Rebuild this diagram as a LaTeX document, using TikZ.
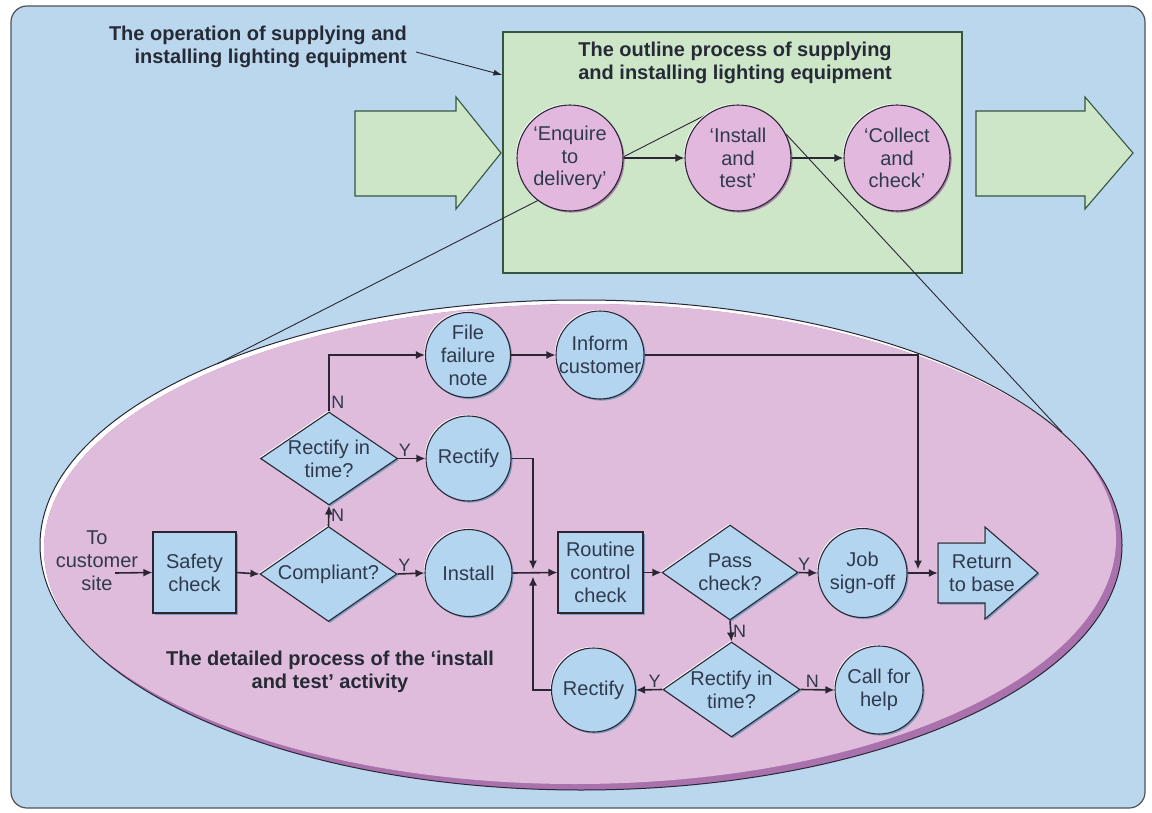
\documentclass[tikz,border=0pt]{standalone}
\usepackage{fontspec}
\setmainfont{Liberation Sans}
\usetikzlibrary{arrows.meta,shapes.geometric,calc}
\pgfdeclarelayer{back}
\pgfdeclarelayer{lines}
\pgfsetlayers{back,lines,main}

\definecolor{framebg}{HTML}{BAD7EE}
\definecolor{frameline}{HTML}{4F5358}
\definecolor{boxgreen}{HTML}{CDE6C8}
\definecolor{greenedge}{HTML}{35563F}
\definecolor{pinkfill}{HTML}{E0BCDC}
\definecolor{pinkrim}{HTML}{A972AC}
\definecolor{bubble}{HTML}{E2B8DF}
\definecolor{bubbleshade}{HTML}{A97FA9}
\definecolor{stepblue}{HTML}{B4D5EF}
\definecolor{stepshade}{HTML}{7C9CBE}
\definecolor{ink}{HTML}{2F3A4E}
\definecolor{wire}{HTML}{2A2633}
\definecolor{headink}{HTML}{262A36}

\tikzset{
  bodyfont/.style={font=\fontsize{20}{23}\selectfont},
  heading/.style={font=\bfseries\fontsize{20}{23}\selectfont, text=headink, inner sep=0pt},
  relief/.style={
    preaction={fill=#1, transform canvas={shift={(1.6pt,-1.6pt)}}},
    preaction={fill=white, transform canvas={shift={(-1.1pt,1.1pt)}}}},
  stepbox/.style={rectangle, fill=stepblue, draw=wire, line width=1.1pt,
    relief=stepshade, text=ink, bodyfont, align=center, inner sep=0pt},
  stepcirc/.style={circle, fill=stepblue, draw=wire, line width=1.1pt,
    relief=stepshade, text=ink, bodyfont, align=center, inner sep=-12pt},
  decision/.style={diamond, fill=stepblue, draw=wire, line width=1.1pt,
    relief=stepshade, text=ink, bodyfont, align=center, inner sep=-12pt,
    minimum width=137pt, minimum height=95pt},
  phase/.style={circle, fill=bubble, draw=wire, line width=1.1pt,
    relief=bubbleshade, text=ink, font=\fontsize{20}{22.5}\selectfont,
    align=center, inner sep=-12pt, minimum size=106pt},
  plain/.style={text=ink, bodyfont, align=center, inner sep=0pt},
  yn/.style={text=ink, font=\fontsize{18}{20}\selectfont, inner sep=1.5pt},
  flow/.style={draw=wire, line width=1.6pt, -{Latex[length=9pt,width=8pt]}},
  pointer/.style={draw=wire, line width=0.9pt, -{Latex[length=9pt,width=6pt]}},
  zoomline/.style={draw=wire, line width=0.9pt},
  bigarrow/.style={fill=boxgreen, draw=greenedge, line width=1.1pt, line join=miter},
}

\begin{document}
\begin{tikzpicture}[x=1pt,y=-1pt]
\useasboundingbox (0,0) rectangle (1152,813);

\begin{pgfonlayer}{back}
  \fill[white] (0,0) rectangle (1152,813);
  % framed panel
  \draw[fill=framebg, draw=frameline, line width=1.2pt, rounded corners=16pt]
    (11,6) rectangle (1145,808);
  % outline process box
  \node[rectangle, fill=boxgreen, draw=greenedge, line width=1.1pt,
        minimum width=459pt, minimum height=241pt, inner sep=0pt]
        (outline) at (732.5,152.5) {};
  % input and output arrows
  \draw[bigarrow] (355,111) -- (456,111) -- (456,97) -- (501,153)
    -- (456,209) -- (456,196) -- (355,196) -- cycle;
  \draw[bigarrow] (976,111) -- (1085,111) -- (1085,97) -- (1133,153)
    -- (1085,209) -- (1085,196) -- (976,196) -- cycle;
  % detail ellipse with light and dark rims
  \begin{scope}
    \clip (581,545) ellipse [x radius=541pt, y radius=245pt];
    \fill[white] (30,290) rectangle (1130,800);
    \begin{scope}
      \clip (585,549) ellipse [x radius=541pt, y radius=245pt];
      \fill[pinkrim] (30,290) rectangle (1130,800);
      \clip (575,539) ellipse [x radius=541pt, y radius=245pt];
      \fill[pinkfill] (30,290) rectangle (1130,800);
    \end{scope}
  \end{scope}
  \draw[wire, line width=1pt] (581,545) ellipse [x radius=541pt, y radius=245pt];
\end{pgfonlayer}

% ---- top level: the operation ----
\node[heading, align=right, anchor=east] (opname) at (407,47)
  {The operation of supplying and\\installing lighting equipment};
\draw[pointer] ([xshift=9pt,yshift=-5pt]opname.east) -- (outline.west |- 0,75);

\node[heading, align=center] (outlinetitle) at (735,63)
  {The outline process of supplying\\and installing lighting equipment};

\node[phase] (enquire) at (570,158) {‘Enquire\\to\\delivery’};
\node[phase] (installtest) at (738,158) {‘Install\\and\\test’};
\node[phase] (collect) at (897,158) {‘Collect\\and\\check’};
\draw[flow] (enquire) -- (installtest);
\draw[flow] (installtest) -- (collect);

% lines opening out the 'install and test' activity
\coordinate (ellNW) at (217,364);
\coordinate (ellNE) at (1062,432);
\begin{pgfonlayer}{lines}
  \draw[zoomline] (installtest.125) -- (ellNW);
  \draw[zoomline] (installtest.27) -- (ellNE);
\end{pgfonlayer}

% ---- detailed process ----
\node[plain] (site) at (97,561) {To\\customer\\site};
\coordinate (entry) at (115,573);
\node[stepbox, minimum width=83pt, minimum height=81pt] (safety) at (194.5,572.5) {Safety\\check};
\node[decision] (comply) at (328.5,574) {Compliant?};
\node[stepcirc, minimum size=87pt] (install) at (468.5,573) {Install};
\node[decision, minimum height=93pt] (rtimeA) at (329,458.5) {Rectify in\\time?};
\node[stepcirc, minimum size=85pt] (rectifyA) at (468.5,458.5) {Rectify};
\node[stepcirc, minimum size=85pt] (failnote) at (468,355) {File\\failure\\note};
\node[stepcirc, minimum size=88pt] (inform) at (600,355) {Inform\\customer};
\node[stepbox, minimum width=85pt, minimum height=81pt] (routine) at (600.5,572.5) {Routine\\control\\check};
\node[decision, minimum width=136pt] (pass) at (730,572.5) {Pass\\check?};
\node[stepcirc, minimum size=89pt] (signoff) at (862.5,573) {Job\\sign-off};
\node[decision] (rtimeB) at (731.5,689.5) {Rectify in\\time?};
\node[stepcirc, minimum size=84pt] (rectifyB) at (593.5,690) {Rectify};
\node[stepcirc, minimum size=88pt] (callhelp) at (879,690) {Call for\\help};

% return-to-base arrow
\path[fill=stepblue, draw=wire, line width=1.1pt, relief=stepshade, line join=miter]
  (938,543) -- (985,543) -- (985,527) -- (1038,573) -- (985,619) -- (985,603)
  -- (938,603) -- cycle;
\node[plain, minimum width=88pt] (home) at (982,573) {Return\\to base};

\coordinate (merge) at (533,573);
\coordinate (join) at (918,573);

\node[heading, align=center] (detailtitle) at (330,672)
  {The detailed process of the ‘install\\and test’ activity};

% connectors
\draw[flow] (entry) -- (safety.west);
\draw[flow] (safety.east) -- (comply.west);
\draw[flow] (comply.east) -- node[yn, above, pos=0.25] {Y} (install.west);
\draw[flow] (install.east) -- (routine.west);
\draw[flow] (comply.north) -- node[yn, right] {N} (rtimeA.south);
\draw[flow] (rtimeA.east) -- node[yn, above, pos=0.25] {Y} (rectifyA.west);
\draw[flow] (rtimeA.north) |- node[yn, right, pos=0.08] {N} (failnote.west);
\draw[flow] (failnote.east) -- (inform.west);
\draw[flow] (rectifyA.east) -| ($(merge)+(0,-3.5)$);
\draw[flow] (rectifyB.west) -| ($(merge)+(0,3.5)$);
\draw[flow] (inform.east) -| ($(join)+(0,-3.5)$);
\draw[flow] (routine.east) -- (pass.west);
\draw[flow] (pass.east) -- node[yn, above, pos=0.3] {Y} (signoff.west);
\draw[flow] (signoff.east) -- (home.west);
\draw[flow] (pass.south) -- node[yn, right] {N} (rtimeB.north);
\draw[flow] (rtimeB.west) -- node[yn, above, pos=0.3] {Y} (rectifyB.east);
\draw[flow] (rtimeB.east) -- node[yn, above, pos=0.35] {N} (callhelp.west);

\end{tikzpicture}
\end{document}
